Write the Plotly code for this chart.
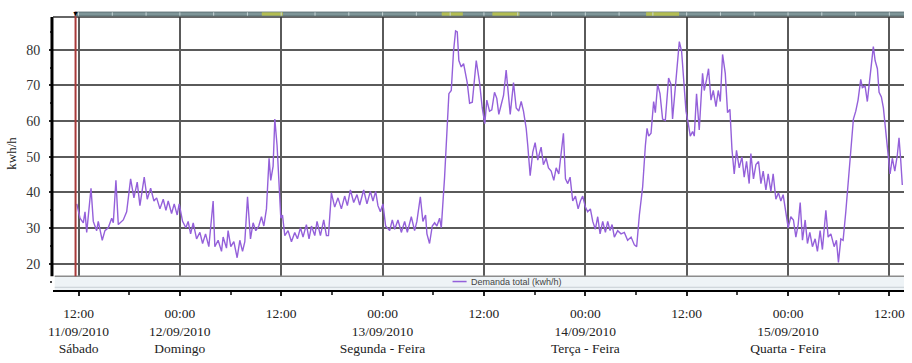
import datetime as dt
import plotly.graph_objects as go

start = dt.datetime(2010, 9, 11, 12, 0)

# hours since 11/09/2010 12:00
hours = [
    -0.2, 0.18, 0.57, 0.77, 0.97, 1.48, 1.75, 2.15, 2.34, 2.81, 3.13, 3.52, 3.93, 4.12, 4.43, 4.71,
    5.30, 5.70, 6.17, 6.56, 6.95, 7.27, 7.78, 8.14, 8.54, 8.93, 9.25, 9.64, 10.03, 10.35, 10.62,
    11.02, 11.33, 11.68, 11.92, 12.32, 12.71, 12.98, 13.27, 13.58, 13.98, 14.37, 14.69, 15.04,
    15.43, 15.94, 16.14, 16.53, 16.93, 17.12, 17.52, 17.71, 18.03, 18.39, 18.78, 19.10, 19.42,
    19.69, 20.01, 20.36, 20.67, 20.99, 21.34, 21.66, 21.94, 22.25, 22.56, 22.76, 23.04, 23.24,
    23.51, 23.74, 23.95, 24.15, 24.42, 24.81, 25.21, 25.60, 25.92, 26.28, 26.58, 26.98, 27.29,
    27.58, 27.97, 28.24, 28.64, 29.03, 29.35, 29.59, 29.94, 30.33, 30.72, 31.12, 31.51, 31.83,
    32.19, 32.58, 32.97, 33.29, 33.76, 34.15, 34.55, 34.86, 35.18, 35.45, 35.74, 36.04, 36.36,
    36.84, 37.15, 37.43, 37.82, 38.22, 38.61, 38.93, 39.40, 39.79, 40.06, 40.47, 40.77, 41.09,
    41.25, 41.56, 41.88, 42.16, 42.43, 42.75, 42.95, 43.34, 43.66, 43.85, 44.13, 44.40, 44.64,
    44.84, 45.03, 45.31, 45.59, 45.82, 46.02, 46.30, 46.62, 47.09, 47.48, 47.80, 48.10, 48.34,
    48.66, 48.93, 49.25, 49.52, 49.76, 50.04, 50.32, 50.63, 50.91, 51.11, 51.50, 51.82, 52.12,
    52.41, 52.68, 53.00, 53.19, 53.47, 53.78, 54.06, 54.37, 54.77, 55.04, 55.36, 55.64, 55.96,
    56.27, 56.55, 56.86, 57.14, 57.41, 57.65, 57.92, 58.20, 58.51, 58.83, 59.15, 59.42, 59.69,
    60.01, 60.28, 60.60, 60.88, 61.19, 61.47, 61.75, 62.06, 62.38, 62.65, 62.93, 63.17, 63.44,
    63.83, 64.23, 64.62, 65.01, 65.42, 65.81, 66.08, 66.40, 66.79, 67.11, 67.31, 67.50, 67.78,
    68.09, 68.29, 68.56, 68.84, 69.15, 69.47, 69.86, 70.14, 70.33, 70.65, 70.92, 71.13, 71.40,
    71.64, 71.92, 72.19, 72.43, 72.70, 72.90, 73.17, 73.49, 73.88, 74.08, 74.36, 74.59, 74.88,
    75.15, 75.47, 75.74, 75.98, 76.25, 76.57, 76.84, 77.12, 77.36, 77.63, 77.90, 78.22, 78.54,
    78.81, 79.09, 79.40, 79.60, 79.91, 80.20, 80.51, 80.79, 81.06, 81.38, 81.65, 81.97, 82.24,
    82.56, 82.87, 83.15, 83.42, 83.74, 84.02, 84.33, 84.64, 84.93, 85.20, 85.44, 85.71, 86.03,
    86.30, 86.58, 86.89, 87.21, 87.48, 87.80, 88.07, 88.48, 88.75, 89.07, 89.46, 89.73, 89.97,
    90.25, 90.52, 90.84, 91.15, 91.43, 91.74, 92.02, 92.29, 92.61, 92.80, 93.12, 93.39, 93.59,
    93.87, 94.10, 94.31, 94.58, 94.78, 95.05, 95.29, 95.57, 95.88, 96.08, 96.35, 96.64, 96.94,
    97.14, 97.34, 97.53,
]

demand = [
    36.8, 32.8, 31.5, 34.6, 28.8, 41.2, 31.9, 29.3, 31.9, 26.6, 29.3, 30.1, 32.8, 31.5, 43.4, 31.0,
    32.3, 34.6, 43.8, 38.5, 42.9, 36.3, 44.3, 38.1, 41.2, 37.6, 38.5, 35.4, 38.1, 35.0, 37.6,
    34.1, 36.8, 33.7, 36.8, 31.9, 30.1, 31.9, 28.4, 31.5, 27.0, 28.8, 25.7, 28.4,
    24.8, 37.6, 24.8, 26.6, 23.5, 27.5, 24.4, 29.3, 24.8, 26.2, 21.7, 26.6, 23.5,
    26.2, 38.8, 27.0, 31.5, 29.3, 30.6, 33.2, 30.6, 35.4, 49.6, 43.4, 47.4, 60.6,
    53.1, 41.6, 32.8, 33.7, 27.9, 29.3, 26.2, 28.8, 27.0, 30.1, 27.5, 31.0, 27.0,
    30.6, 27.9, 31.9, 27.9, 32.3, 27.9, 27.9, 39.9, 35.9, 38.5, 35.4, 39.0, 36.3,
    40.7, 37.2, 39.4, 36.5, 40.7, 36.8, 40.3, 37.6, 40.3, 36.3, 34.6, 36.8, 30.6,
    29.3, 32.3, 29.7, 32.3, 28.8, 31.9, 28.8, 33.2, 29.3, 31.9, 38.8, 31.9, 33.7,
    28.4, 25.7, 30.6, 31.5, 30.6, 32.8, 30.1, 44.3, 59.3, 67.7, 68.6, 79.6, 85.3,
    85.0, 77.0, 75.2, 76.1, 73.0, 70.8, 65.0, 65.3, 77.0, 70.8, 63.7, 59.3, 65.9,
    62.8, 63.2, 68.1, 66.4, 61.9, 64.6, 67.2, 74.3, 67.2, 61.9, 70.8, 63.7, 62.8,
    65.5, 62.8, 58.0, 53.1, 44.7, 51.3, 54.0, 49.1, 52.7, 47.8, 49.6, 46.9, 46.0,
    43.4, 46.9, 45.2, 50.5, 56.6, 43.8, 42.5, 44.3, 37.6, 39.0, 35.4, 37.6, 39.0,
    35.9, 34.6, 35.4, 31.9, 29.7, 33.2, 28.4, 31.9, 28.8, 31.9, 29.3, 31.0, 27.5,
    29.3, 28.4, 28.8, 26.6, 27.5, 25.3, 24.8, 33.7, 41.6, 53.1, 58.0, 55.8, 56.6,
    65.5, 62.4, 70.3, 67.7, 60.6, 60.2, 72.1, 70.3, 60.6, 69.4, 77.8, 82.3, 79.6,
    71.7, 62.8, 59.3, 55.8, 57.1, 55.8, 67.7, 57.5, 73.4, 68.6, 71.7, 74.7, 65.9,
    68.6, 64.1, 68.6, 65.5, 78.7, 73.4, 62.4, 63.3, 52.2, 45.2, 51.8, 46.9, 50.0,
    44.3, 48.7, 42.5, 50.9, 43.8, 47.8, 48.7, 42.5, 46.0, 40.7, 45.2, 40.3, 45.2,
    38.1, 39.9, 37.6, 39.4, 34.6, 30.1, 33.2, 32.3, 27.5, 31.0, 37.2, 26.6, 32.3,
    25.7, 28.8, 24.8, 27.0, 23.5, 29.3, 24.0, 35.0, 27.5, 28.4, 24.8, 26.6, 20.4,
    27.0, 26.6, 34.6, 43.4, 52.2, 60.6, 62.8, 65.9, 71.7, 69.4, 69.9, 65.5, 69.9,
    75.2, 80.9, 77.0, 74.7, 68.1, 66.8, 63.7, 56.6, 49.6, 45.2, 49.6, 46.0, 50.5,
    55.3, 49.1, 42.1,
]

tick_hours = [0, 12, 24, 36, 48, 60, 72, 84, 96]
tick_labels = [
    "12:00<br>11/09/2010<br>Sábado",
    "00:00<br>12/09/2010<br>Domingo",
    "12:00",
    "00:00<br>13/09/2010<br>Segunda - Feira",
    "12:00",
    "00:00<br>14/09/2010<br>Terça - Feira",
    "12:00",
    "00:00<br>15/09/2010<br>Quarta - Feira",
    "12:00",
]
y_ticks = [20, 30, 40, 50, 60, 70, 80]
x_range_hours = [-3.02, 97.73]
y_range = [12.66, 89.2]
cursor_hour = -0.35
bar_highlights = [(21.7, 24.2), (43.0, 45.5), (49.0, 52.2), (67.2, 71.1)]
series_name = "Demanda total (kwh/h)"


def t(h):
    return start + dt.timedelta(hours=h)


times = [t(h) for h in hours]

fig = go.Figure()
fig.add_trace(go.Scatter(
    x=times, y=demand, mode="lines", name=series_name,
    line=dict(color="#9460da", width=1.4), showlegend=False,
))

serif = "Liberation Serif"
strip_top = 0.0502

shapes = []
# legend strip
shapes.append(dict(type="rect", xref="paper", yref="paper", x0=0.002, x1=1.0, y0=0.0, y1=strip_top,
                   fillcolor="#eef3f6", line=dict(width=0), layer="above"))
shapes.append(dict(type="line", xref="paper", yref="paper", x0=0.002, x1=1.0, y0=strip_top, y1=strip_top,
                   line=dict(color="#8c8c8c", width=1.5), layer="above"))
shapes.append(dict(type="line", xref="paper", yref="paper", x0=0.002, x1=1.0, y0=0.01, y1=0.01,
                   line=dict(color="#c8cfd4", width=1), layer="above"))
# legend sample line
shapes.append(dict(type="line", xref="paper", yref="paper", x0=0.4695, x1=0.486, y0=0.031, y1=0.031,
                   line=dict(color="#9460da", width=1.5), layer="above"))
# y axis line
shapes.append(dict(type="line", xref="paper", yref="paper", x0=-0.0012, x1=-0.0012, y0=strip_top, y1=1.0,
                   line=dict(color="black", width=3), layer="above"))
# top border
shapes.append(dict(type="line", xref="paper", yref="paper", x0=0.0, x1=1.0, y0=1.0, y1=1.0,
                   line=dict(color="#333333", width=1.5), layer="above"))
# cursor line
shapes.append(dict(type="line", xref="x", yref="paper", x0=t(cursor_hour), x1=t(cursor_hour),
                   y0=strip_top, y1=1.02, line=dict(color="#a83a3a", width=2), layer="above"))
# top bar
shapes.append(dict(type="rect", xref="x", yref="paper", x0=t(cursor_hour), x1=t(x_range_hours[1] + 0.3),
                   y0=1.004, y1=1.018, fillcolor="#7e9598", line=dict(color="#5f7477", width=1)))
for a, b in bar_highlights:
    shapes.append(dict(type="rect", xref="x", yref="paper", x0=t(a), x1=t(b),
                       y0=1.005, y1=1.017, fillcolor="#b3bd52", line=dict(width=0)))
h = 0
while h < x_range_hours[1]:
    shapes.append(dict(type="line", xref="x", yref="paper", x0=t(h), x1=t(h), y0=1.005, y1=1.017,
                       line=dict(color="#c9d6d8", width=1)))
    h += 4

fig.update_layout(
    width=912, height=363,
    margin=dict(l=53, r=7, t=17, b=57),
    paper_bgcolor="white", plot_bgcolor="white",
    shapes=shapes,
    xaxis=dict(
        type="date", range=[t(x_range_hours[0]), t(x_range_hours[1])],
        tickvals=[t(v) for v in tick_hours], ticktext=tick_labels,
        showgrid=True, gridcolor="#5a5a5a", gridwidth=1.5,
        showline=True, linecolor="black", linewidth=2,
        ticks="outside", ticklen=4, tickcolor="#222", tickwidth=1.5,
        minor=dict(tickvals=[t(v) for v in range(-6, 100, 6)], ticks="outside", ticklen=3,
                   tickcolor="#444", showgrid=False),
        tickfont=dict(family=serif, size=13.5, color="#222"),
        ticklabelstandoff=6,
        zeroline=False,
    ),
    yaxis=dict(
        range=y_range, tickvals=y_ticks,
        showgrid=True, gridcolor="#5a5a5a", gridwidth=1.8,
        showline=False, zeroline=False,
        ticks="outside", ticklen=3, tickcolor="#222", tickwidth=1.5,
        minor=dict(dtick=5, ticks="outside", ticklen=2, tickcolor="#444", showgrid=False),
        tickfont=dict(family=serif, size=14, color="#333"),
        ticklabelstandoff=6,
        title=dict(text="kwh/h", font=dict(family=serif, size=13, color="#222"), standoff=6),
    ),
    annotations=[
        dict(text=series_name, xref="paper", yref="paper", x=0.4885, y=0.031, xanchor="left",
             yanchor="middle", showarrow=False, font=dict(family="Liberation Sans", size=9, color="#444")),
        dict(text="▼", xref="x", yref="paper", x=t(cursor_hour), y=1.035, showarrow=False,
             font=dict(size=7, color="black")),
    ],
)

fig.write_html("out.html")
